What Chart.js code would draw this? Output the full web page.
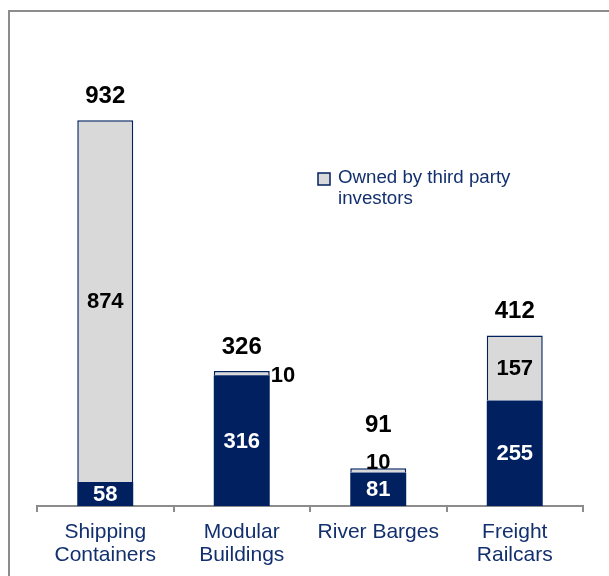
<!DOCTYPE html>
<html>
<head>
<meta charset="utf-8">
<script src="https://cdn.jsdelivr.net/npm/chart.js@4.4.1/dist/chart.umd.min.js"></script>
<style>
  html, body { margin: 0; padding: 0; background: #ffffff; }
  #wrap { position: relative; width: 609px; height: 576px; }
</style>
</head>
<body>
<div id="wrap"><canvas id="assetChart" width="609" height="576"></canvas></div>
<script>
// Fleet by asset type
const categories = [
  ['Shipping', 'Containers'],
  ['Modular', 'Buildings'],
  'River Barges',
  ['Freight', 'Railcars']
];
const ownedValues = [58, 316, 81, 255];
const thirdPartyValues = [874, 10, 10, 157];
const legendLabel = ['Owned by third party', 'investors'];

// Colors
const navyColor = '#002060',
  greyFill = '#D9D9D9',
  textNavy = '#13306E',
  axisColor = '#8C8C8C';
const fontFamily = '"Liberation Sans", Arial, Helvetica, sans-serif';

// where a label goes when its segment is too thin to hold it
const smallLabelPlacement = [null, 'right', 'above', null];

// Frame lines round the chart + custom legend
const framePlugin = {
  id: 'frame',
  beforeDraw(chart) {
    const ctx = chart.ctx;
    ctx.save();
    ctx.strokeStyle = axisColor;
    ctx.lineWidth = 2;
    ctx.beginPath();
    ctx.moveTo(9, 576);
    ctx.lineTo(9, 11);
    ctx.lineTo(609, 11);
    ctx.stroke();
    ctx.restore();
  },
  afterDraw(chart) {
    const ctx = chart.ctx;
    ctx.save();
    ctx.fillStyle = greyFill;
    ctx.fillRect(318, 173, 12, 12);
    ctx.strokeStyle = navyColor;
    ctx.lineWidth = 1.5;
    ctx.strokeRect(318, 173, 12, 12);
    ctx.fillStyle = textNavy;
    ctx.font = '18.7px ' + fontFamily;
    ctx.textBaseline = 'middle';
    ctx.textAlign = 'left';
    ctx.fillText(legendLabel[0], 338, 178);
    ctx.fillText(legendLabel[1], 338, 199);
    ctx.restore();
  }
};

// Segment values and stack totals
const valueLabelPlugin = {
  id: 'valueLabels',
  afterDatasetsDraw(chart) {
    const ctx = chart.ctx;
    const ownedMeta = chart.getDatasetMeta(0);
    const thirdMeta = chart.getDatasetMeta(1);
    ctx.save();
    ctx.textBaseline = 'middle';
    categories.forEach(function (cat, i) {
      const own = ownedMeta.data[i];
      const third = thirdMeta.data[i];
      const barRight = own.x + own.width / 2;

      ctx.font = 'bold 22px ' + fontFamily;
      ctx.textAlign = 'center';
      ctx.fillStyle = '#ffffff';
      ctx.fillText(String(ownedValues[i]), own.x, (own.y + own.base) / 2 + 1);

      const place = smallLabelPlacement[i];
      ctx.fillStyle = '#000000';
      let totalOffset = 24;
      if (place === 'right') {
        ctx.textAlign = 'left';
        ctx.fillText(String(thirdPartyValues[i]), barRight + 1, (third.y + third.base) / 2 + 3);
      } else if (place === 'above') {
        ctx.fillText(String(thirdPartyValues[i]), third.x, third.y - 5);
        totalOffset = 43;
      } else {
        ctx.fillText(String(thirdPartyValues[i]), third.x, (third.y + third.base) / 2 + 1);
      }

      ctx.font = 'bold 24px ' + fontFamily;
      ctx.textAlign = 'center';
      ctx.fillText(String(ownedValues[i] + thirdPartyValues[i]), third.x, third.y - totalOffset);
    });
    ctx.restore();
  }
};

const assetChart = document.getElementById('assetChart');
new Chart(assetChart, {
  type: 'bar',
  data: {
    labels: categories,
    datasets: [
      {
        label: 'Owned',
        data: ownedValues,
        backgroundColor: navyColor,
        borderColor: navyColor,
        borderWidth: 0
      },
      {
        label: legendLabel.join(' '),
        data: thirdPartyValues,
        backgroundColor: greyFill,
        borderColor: navyColor,
        borderWidth: 1.5
      }
    ]
  },
  options: {
    responsive: false,
    animation: false,
    devicePixelRatio: 1,
    layout: {
      padding: { left: 37, right: 26, top: 92, bottom: 0 }
    },
    datasets: {
      bar: {
        categoryPercentage: 1,
        barPercentage: 0.41
      }
    },
    plugins: {
      legend: { display: false },
      tooltip: { enabled: false }
    },
    scales: {
      x: {
        stacked: true,
        afterFit: function (scale) {
          scale.height = 70;
        },
        grid: {
          offset: true,
          drawOnChartArea: false,
          drawTicks: true,
          tickLength: 6,
          color: axisColor,
          lineWidth: 2
        },
        border: {
          display: true,
          color: axisColor,
          width: 2
        },
        ticks: {
          color: textNavy,
          padding: 8,
          maxRotation: 0,
          autoSkip: false,
          font: { family: fontFamily, size: 21, lineHeight: 1.12 }
        }
      },
      y: {
        stacked: true,
        display: false,
        min: 0,
        max: 1000
      }
    }
  },
  plugins: [framePlugin, valueLabelPlugin]
});
</script>
</body>
</html>
